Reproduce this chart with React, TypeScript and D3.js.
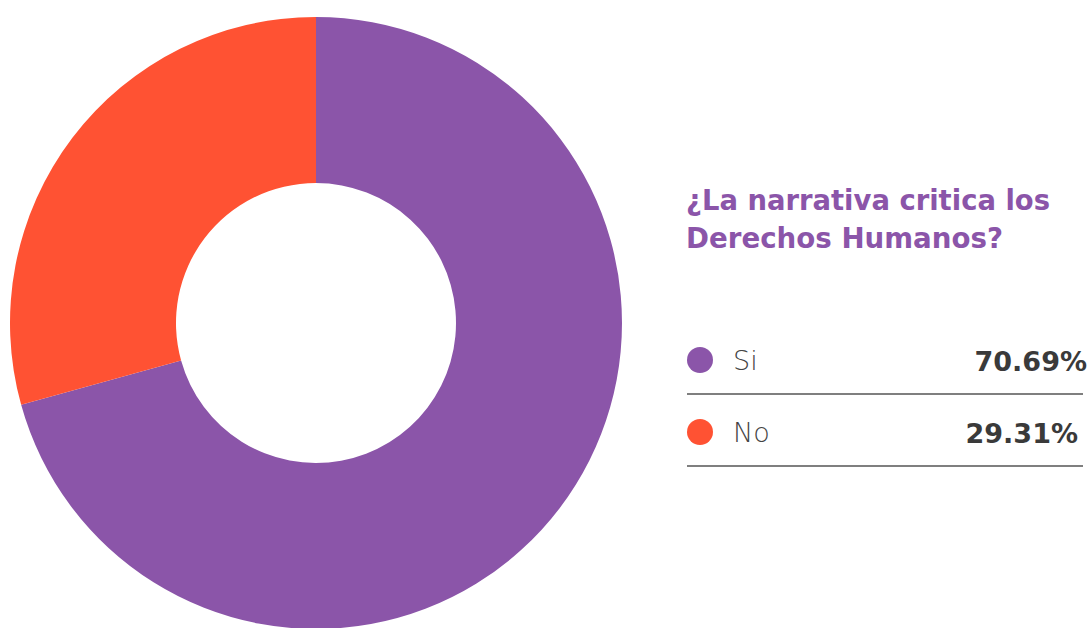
import { useEffect, useRef } from "react"
import * as d3 from "d3"

const categories = ["Si", "No"]
const values = [70.69, 29.31]
const valueLabels = ["70.69%", "29.31%"]
const colors = ["#8b55a9", "#ff5233"]
const titleLines = ["¿La narrativa critica los", "Derechos Humanos?"]

export default function App() {
  const svgRef = useRef<SVGSVGElement>(null)

  useEffect(() => {
    if (!svgRef.current) return
    const svg = d3.select(svgRef.current)
    svg.selectAll("*").remove()

    const cx = 316
    const cy = 323
    const outer = 306
    const inner = 140

    const pie = d3
      .pie<number>()
      .sort(null)
      .value((d) => d)
    const arc = d3.arc<d3.PieArcDatum<number>>().innerRadius(inner).outerRadius(outer)

    svg
      .append("g")
      .attr("transform", `translate(${cx},${cy})`)
      .selectAll("path")
      .data(pie(values))
      .join("path")
      .attr("d", arc)
      .attr("fill", (_, i) => colors[i])

    // title
    const font = "'DejaVu Sans', sans-serif"
    svg
      .append("g")
      .selectAll("text")
      .data(titleLines)
      .join("text")
      .attr("x", 686)
      .attr("y", (_, i) => 210 + i * 38)
      .attr("fill", "#8b55a9")
      .attr("font-family", font)
      .attr("font-weight", "bold")
      .attr("font-size", 29)
      .attr("textLength", (_, i) => (i === 0 ? 364 : 317))
      .attr("lengthAdjust", "spacingAndGlyphs")
      .text((d) => d)

    // legend
    const rowY = d3.scalePoint<string>().domain(categories).range([360, 432])
    const rows = svg
      .append("g")
      .selectAll("g")
      .data(categories)
      .join("g")
      .attr("transform", (d) => `translate(0,${rowY(d)})`)

    rows
      .append("circle")
      .attr("cx", 700)
      .attr("cy", 0)
      .attr("r", 13)
      .attr("fill", (_, i) => colors[i])

    rows
      .append("text")
      .attr("x", 733)
      .attr("y", 10)
      .attr("fill", "#444")
      .attr("font-family", font)
      .attr("font-weight", 300)
      .attr("font-size", 27)
      .text((d) => d)

    rows
      .append("text")
      .attr("x", (_, i) => (i === 0 ? 1087 : 1078))
      .attr("y", 11)
      .attr("text-anchor", "end")
      .attr("fill", "#3a3a3a")
      .attr("font-family", font)
      .attr("font-weight", "bold")
      .attr("font-size", 27)
      .text((_, i) => valueLabels[i])

    rows
      .append("line")
      .attr("x1", 687)
      .attr("x2", 1083)
      .attr("y1", 34)
      .attr("y2", 34)
      .attr("stroke", "#555")
      .attr("stroke-width", 1.5)
  }, [])

  return (
    <svg
      ref={svgRef}
      width={1091}
      height={628}
      style={{ position: "absolute", left: 0, top: 0, background: "#fff" }}
    />
  )
}
